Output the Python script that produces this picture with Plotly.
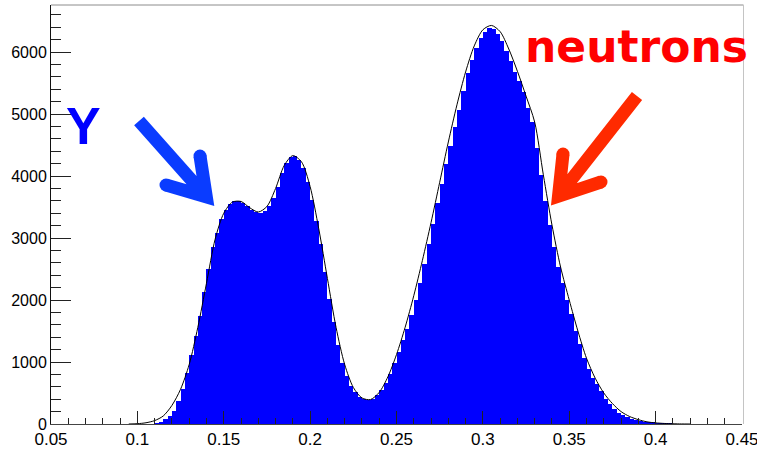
import numpy as np
import plotly.graph_objects as go

# Histogram: fixed-width bins starting at bin_lo
bin_lo = 0.11
bin_w = 0.0025
counts = [
    10, 40, 80, 130, 210, 370, 560, 830, 1110, 1420,
    1740, 2130, 2500, 2850, 3080, 3310, 3460, 3550, 3590, 3590,
    3560, 3510, 3460, 3420, 3400, 3430, 3520, 3650, 3830, 4050,
    4210, 4300, 4320, 4260, 4130, 3900, 3620, 3280, 2900, 2450,
    2020, 1650, 1280, 990, 780, 620, 510, 440, 400, 390,
    410, 470, 550, 660, 810, 990, 1160, 1350, 1530, 1760,
    2000, 2280, 2580, 2900, 3230, 3570, 3880, 4190, 4480, 4790,
    5070, 5370, 5660, 5880, 6060, 6230, 6330, 6390, 6370, 6290,
    6180, 6020, 5850, 5680, 5530, 5350, 5100, 4880, 4450, 4020,
    3590, 3210, 2850, 2530, 2270, 2000, 1780, 1500, 1290, 1060,
    880, 740, 640, 540, 410, 320, 240, 185, 140, 110,
    82, 65, 50, 38, 28, 20, 14, 9, 6, 3,
]

# Fit function sampled along x
fit_x = [
    0.095, 0.100, 0.105, 0.110, 0.115, 0.120, 0.125, 0.130, 0.135, 0.140,
    0.145, 0.150, 0.155, 0.160, 0.165, 0.170, 0.175, 0.180, 0.185, 0.190,
    0.195, 0.200, 0.205, 0.210, 0.215, 0.220, 0.225, 0.230, 0.235, 0.240,
    0.245, 0.250, 0.255, 0.260, 0.265, 0.270, 0.275, 0.280, 0.285, 0.290,
    0.295, 0.300, 0.305, 0.310, 0.315, 0.320, 0.325, 0.330, 0.335, 0.340,
    0.345, 0.350, 0.355, 0.360, 0.365, 0.370, 0.375, 0.380, 0.385, 0.390,
    0.395, 0.400, 0.405, 0.410, 0.415, 0.420,
]
fit_y = [
    0, 5, 20, 55, 130, 300, 560, 960, 1560, 2270,
    2980, 3400, 3580, 3590, 3490, 3420, 3510, 3800, 4170, 4330,
    4230, 3830, 3150, 2350, 1560, 960, 590, 420, 395, 510,
    760, 1120, 1560, 2070, 2640, 3250, 3900, 4550, 5150, 5680,
    6100, 6360, 6430, 6330, 6050, 5690, 5290, 4870, 4020, 3210,
    2530, 2000, 1500, 1060, 740, 500, 330, 200, 120, 70,
    35, 18, 9, 4, 1, 0,
]

x_tick_vals = [0.05, 0.10, 0.15, 0.20, 0.25, 0.30, 0.35, 0.40, 0.45]
x_tick_text = ["0.05", "0.1", "0.15", "0.2", "0.25", "0.3", "0.35", "0.4", "0.45"]
y_tick_vals = [0, 1000, 2000, 3000, 4000, 5000, 6000]
y_tick_text = ["0", "1000", "2000", "3000", "4000", "5000", "6000"]

x_range = [0.05, 0.45]
y_range = [0, 6760]

W, H = 757, 449
ML, MR, MT, MB = 51, 15, 5, 25
PW, PH = W - ML - MR, H - MT - MB


def px(x):
    return (x - ML) / PW


def py(y):
    return (H - MB - y) / PH


centers = bin_lo + bin_w * (np.arange(len(counts)) + 0.5)

fig = go.Figure()
fig.add_trace(go.Bar(
    x=centers, y=counts, width=bin_w,
    marker=dict(color="#0000ff", line=dict(width=0)),
    hoverinfo="x+y",
))
fig.add_trace(go.Scatter(
    x=fit_x, y=fit_y, mode="lines",
    line=dict(color="black", width=1, shape="spline", smoothing=0.8),
    hoverinfo="skip",
))


def arrow(tail, joint, arm1, arm2, color, w=13):
    shapes = []
    path = (f"M {px(tail[0])},{py(tail[1])} L {px(joint[0])},{py(joint[1])} "
            f"M {px(arm1[0])},{py(arm1[1])} L {px(joint[0])},{py(joint[1])} "
            f"L {px(arm2[0])},{py(arm2[1])}")
    shapes.append(dict(type="path", xref="paper", yref="paper", path=path,
                       line=dict(color=color, width=w)))
    r = w / 2
    for cx, cy in (arm1, arm2):
        shapes.append(dict(type="circle", xref="paper", yref="paper",
                           x0=px(cx - r), x1=px(cx + r),
                           y0=py(cy + r), y1=py(cy - r),
                           fillcolor=color, line=dict(width=0)))
    return shapes


shapes = []
# frame top and right edges
shapes.append(dict(type="line", xref="paper", yref="paper", x0=0, x1=px(743.5),
                   y0=1, y1=1, line=dict(color="#8c8c8c", width=1)))
shapes.append(dict(type="line", xref="paper", yref="paper", x0=px(743.5), x1=px(743.5),
                   y0=0, y1=1, line=dict(color="#c4c4c4", width=1)))
shapes += arrow((139, 121), (206.3, 196.8), (200, 156), (166, 185), "#0a3cff")
shapes += arrow((637, 96), (558.5, 196.1), (563, 154), (601, 182), "#ff2a00")

annotations = [
    dict(text="<b>Y</b>", xref="paper", yref="paper", x=px(83), y=py(126),
         showarrow=False, font=dict(family="Liberation Sans", size=52, color="#0000ff"),
         xanchor="center", yanchor="middle"),
    dict(text="<b>neutrons</b>", xref="paper", yref="paper", x=px(636), y=py(47),
         showarrow=False, font=dict(family="DejaVu Sans", size=44, color="#ff0000"),
         xanchor="center", yanchor="middle"),
]

fig.update_layout(
    width=W, height=H, autosize=False,
    margin=dict(l=ML, r=MR, t=MT, b=MB, pad=0),
    paper_bgcolor="white", plot_bgcolor="white",
    showlegend=False, bargap=0,
    shapes=shapes, annotations=annotations,
    font=dict(family="Liberation Sans", color="black"),
)
fig.update_xaxes(
    range=x_range, showgrid=False, zeroline=False,
    showline=True, linecolor="#444", linewidth=1,
    ticks="inside", ticklen=13, tickcolor="#222",
    tickmode="array", tickvals=x_tick_vals, ticktext=x_tick_text,
    tickfont=dict(size=17), ticklabeloverflow="allow",
    minor=dict(dtick=0.01, tick0=0.05, ticks="inside", ticklen=6, tickcolor="#222",
               showgrid=False),
    automargin=False,
)
fig.update_yaxes(
    range=y_range, showgrid=False, zeroline=False,
    showline=True, linecolor="#111", linewidth=1,
    ticks="inside", ticklen=20, tickcolor="#222",
    tickmode="array", tickvals=y_tick_vals, ticktext=y_tick_text,
    tickfont=dict(size=16), ticklabeloverflow="allow",
    minor=dict(dtick=200, tick0=0, ticks="inside", ticklen=10, tickcolor="#222",
               showgrid=False),
    automargin=False,
)

fig.write_html("out.html")
